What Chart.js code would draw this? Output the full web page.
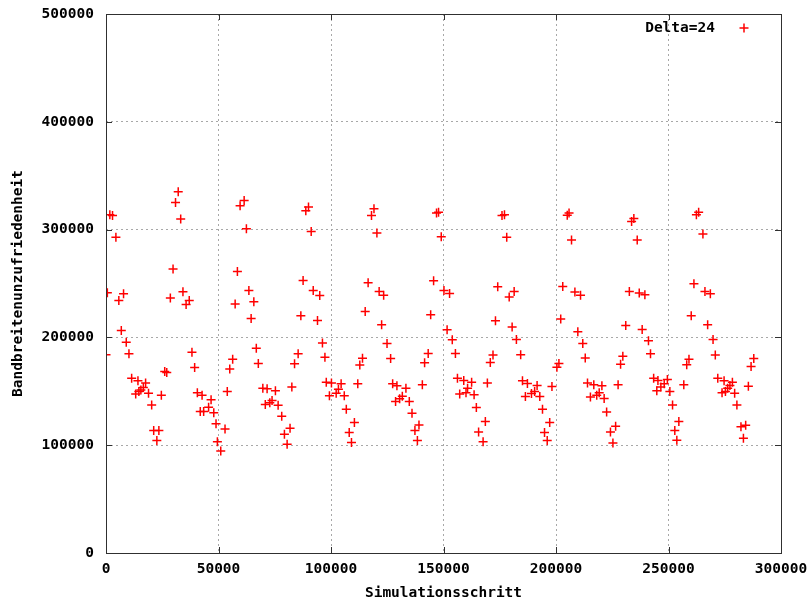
<!DOCTYPE html>
<html>
<head>
<meta charset="utf-8">
<script src="https://cdn.jsdelivr.net/npm/chart.js@4/dist/chart.umd.min.js"></script>
<style>
  html, body { margin: 0; padding: 0; background: #fff; }
  canvas { display: block; }
</style>
</head>
<body>
<canvas id="chart" width="811" height="602"></canvas>
<script>
// Simulationsschritt (x)
const steps = [
  0, 600, 1700, 2900, 4400, 5700, 6800, 7800, 9000, 10200,
  11400, 13200, 14200, 14600, 15500, 16600, 17600, 18900, 20300, 21200,
  22600, 23500, 24600, 26100, 27000, 28600, 29800, 30900, 32100, 33200,
  34200, 35600, 37000, 38200, 39400, 40600, 41900, 42700, 43400, 45600,
  46700, 47900, 48900, 49500, 51000, 52900, 53900, 55000, 56300, 57400,
  58400, 59600, 61400, 62400, 63500, 64500, 65700, 66800, 67700, 69700,
  70800, 71600, 72800, 73800, 75300, 76500, 78100, 79300, 80500, 81800,
  82600, 83800, 85400, 86600, 87600, 88800, 90000, 91200, 92100, 94000,
  95000, 96200, 97300, 97900, 99300, 100200, 102300, 103300, 104500, 105900,
  106800, 108100, 109100, 110400, 111900, 112800, 114000, 115200, 116500, 118000,
  119100, 120400, 121400, 122500, 123400, 124900, 126500, 127400, 128700, 129300,
  130500, 131700, 133300, 134800, 136000, 137300, 138400, 139100, 140600, 141600,
  143200, 144300, 145600, 146900, 147800, 149000, 150200, 151600, 152700, 153900,
  155300, 156200, 157200, 159000, 160000, 160700, 162500, 163600, 164600, 165600,
  167600, 168600, 169500, 170800, 172000, 173100, 174100, 176000, 177100, 178100,
  179200, 180500, 181400, 182400, 184300, 185100, 186400, 187300, 189100, 190500,
  191600, 192800, 194000, 194900, 196100, 197200, 198200, 200400, 201300, 202100,
  203000, 205000, 205800, 206900, 208400, 209700, 210900, 211900, 213000, 214000,
  215300, 216800, 218100, 219200, 220400, 221400, 222500, 224200, 225300, 226500,
  227600, 228700, 229700, 231000, 232600, 233600, 234600, 236100, 237000, 238300,
  239500, 241100, 242000, 243400, 244800, 245300, 246600, 248100, 249500, 250600,
  251800, 252800, 253700, 254600, 256800, 258100, 259100, 260100, 261300, 262400,
  263400, 265300, 266200, 267400, 268600, 269800, 270800, 271900, 273800, 274700,
  275300, 276300, 277300, 278400, 279400, 280400, 282200, 283300, 284300, 285500,
  286700, 287900
];

// Bandbreitenunzufriedenheit (y)
const values = [
  183800, 241400, 313800, 313000, 292800, 234300, 206400, 240500, 195600, 184800,
  162200, 147600, 159700, 149800, 151300, 153500, 157800, 148300, 137400, 113600,
  104300, 113600, 146400, 168300, 167400, 236500, 263400, 325200, 335000, 309800,
  242300, 230600, 234300, 186300, 172100, 148600, 131200, 146400, 131200, 135300,
  142100, 130000, 119800, 103300, 94700, 115100, 149800, 170600, 179800, 230900,
  261200, 322200, 327100, 300800, 243600, 217600, 233100, 190000, 175800, 152900,
  137700, 152300, 139300, 141400, 150400, 137100, 126900, 110200, 100900, 115800,
  153900, 175500, 184800, 220100, 252800, 317500, 321000, 298300, 243600, 215700,
  238900, 194700, 181700, 158500, 145800, 157600, 148300, 152000, 156900, 145800,
  133400, 111700, 102400, 121000, 156900, 174300, 180700, 224000, 250700, 313100,
  319300, 296800, 242600, 211700, 239200, 194300, 180400, 156900, 140500, 155100,
  143000, 145500, 152900, 140500, 129700, 113600, 104300, 118800, 156000, 176400,
  185100, 221000, 252600, 315400, 316000, 293400, 243600, 207100, 240800, 197800,
  185100, 162200, 147600, 160000, 148600, 152900, 158500, 146700, 134900, 112300,
  103300, 121900, 157800, 176700, 183600, 215400, 247000, 313000, 313800, 292800,
  237400, 209600, 242600, 198100, 183800, 159700, 145100, 157200, 147900, 149800,
  155300, 145100, 133400, 111700, 104300, 121000, 154400, 172400, 175800, 217000,
  247300, 313200, 315400, 290300, 242000, 205200, 239200, 194300, 180800, 157800,
  144800, 156000, 146400, 148600, 155100, 143300, 130900, 112300, 102100, 117600,
  156000, 175200, 182600, 211100, 242600, 307600, 310400, 290300, 241100, 207400,
  239600, 196800, 184800, 162200, 150400, 160000, 153900, 156900, 160900, 149800,
  137400, 113600, 104700, 121900, 156000, 174600, 179800, 220100, 249800, 313800,
  316000, 295900, 242600, 211700, 240500, 198100, 183600, 162200, 148600, 159700,
  149800, 152900, 155300, 158500, 148300, 137400, 117000, 106500, 118600, 154800,
  173000, 180400
];

const seriesLabel = 'Delta=24';
const xTitle = 'Simulationsschritt';
const yTitle = 'Bandbreitenunzufriedenheit';

const FONT = '"DejaVu Sans Mono", "Liberation Mono", monospace';
const RED = '#ff0000';
const FRAME = '#303030';

// border, inward tick marks on all four sides, and the key in the top right
const framePlugin = {
  id: 'frame',
  afterDraw(chart) {
    const { ctx, chartArea: a, scales } = chart;
    ctx.save();
    ctx.strokeStyle = FRAME;
    ctx.lineWidth = 1;
    ctx.strokeRect(Math.round(a.left) + 0.5, Math.round(a.top) + 0.5,
      Math.round(a.right - a.left), Math.round(a.bottom - a.top));

    const len = 6;
    ctx.beginPath();
    scales.y.ticks.forEach(t => {
      const y = Math.round(scales.y.getPixelForValue(t.value)) + 0.5;
      ctx.moveTo(a.left, y); ctx.lineTo(a.left + len, y);
      ctx.moveTo(a.right, y); ctx.lineTo(a.right - len, y);
    });
    scales.x.ticks.forEach(t => {
      const x = Math.round(scales.x.getPixelForValue(t.value)) + 0.5;
      ctx.moveTo(x, a.bottom); ctx.lineTo(x, a.bottom - len);
      ctx.moveTo(x, a.top); ctx.lineTo(x, a.top + len);
    });
    ctx.stroke();

    // key
    ctx.font = 'bold 14.5px ' + FONT;
    ctx.fillStyle = '#000';
    ctx.textAlign = 'right';
    ctx.textBaseline = 'middle';
    ctx.fillText(seriesLabel, a.right - 66, a.top + 14);
    ctx.strokeStyle = RED;
    ctx.lineWidth = 1.5;
    const kx = a.right - 37, ky = a.top + 14;
    ctx.beginPath();
    ctx.moveTo(kx - 4.5, ky); ctx.lineTo(kx + 4.5, ky);
    ctx.moveTo(kx, ky - 4.5); ctx.lineTo(kx, ky + 4.5);
    ctx.stroke();
    ctx.restore();
  }
};

const points = steps.map((s, i) => ({ x: s, y: values[i] }));

new Chart(document.getElementById('chart'), {
  type: 'scatter',
  data: {
    datasets: [{
      label: seriesLabel,
      data: points,
      pointStyle: 'cross',
      pointRadius: 4.5,
      pointBorderWidth: 1.5,
      borderColor: RED,
      backgroundColor: RED
    }]
  },
  options: {
    responsive: false,
    animation: false,
    devicePixelRatio: 1,
    layout: { padding: { top: 14, right: 30, bottom: 0, left: 0 } },
    plugins: {
      legend: { display: false },
      tooltip: { enabled: false }
    },
    scales: {
      x: {
        type: 'linear',
        min: 0,
        max: 300000,
        ticks: {
          stepSize: 50000,
          autoSkip: false,
          maxRotation: 0,
          padding: 8,
          color: '#000',
          font: { family: FONT, size: 14.5, weight: 'bold' },
          callback: v => String(v)
        },
        grid: { color: '#a8a8a8', drawTicks: false },
        border: { display: false, dash: [2, 3] },
        title: {
          display: true,
          text: xTitle,
          color: '#000',
          padding: { top: 0, bottom: 0 },
          font: { family: FONT, size: 14.5, weight: 'bold' }
        },
        afterFit: s => { s.height = 49; s.paddingLeft = 0; s.paddingRight = 0; }
      },
      y: {
        type: 'linear',
        min: 0,
        max: 500000,
        ticks: {
          stepSize: 100000,
          padding: 12,
          color: '#000',
          font: { family: FONT, size: 14.5, weight: 'bold' },
          callback: v => String(v)
        },
        grid: { color: '#a8a8a8', drawTicks: false },
        border: { display: false, dash: [2, 3] },
        title: {
          display: true,
          text: yTitle,
          color: '#000',
          padding: { top: 10, bottom: 0 },
          font: { family: FONT, size: 14.5, weight: 'bold' }
        },
        afterFit: s => { s.width = 106; s.paddingTop = 0; s.paddingBottom = 0; }
      }
    }
  },
  plugins: [framePlugin]
});
</script>
</body>
</html>
